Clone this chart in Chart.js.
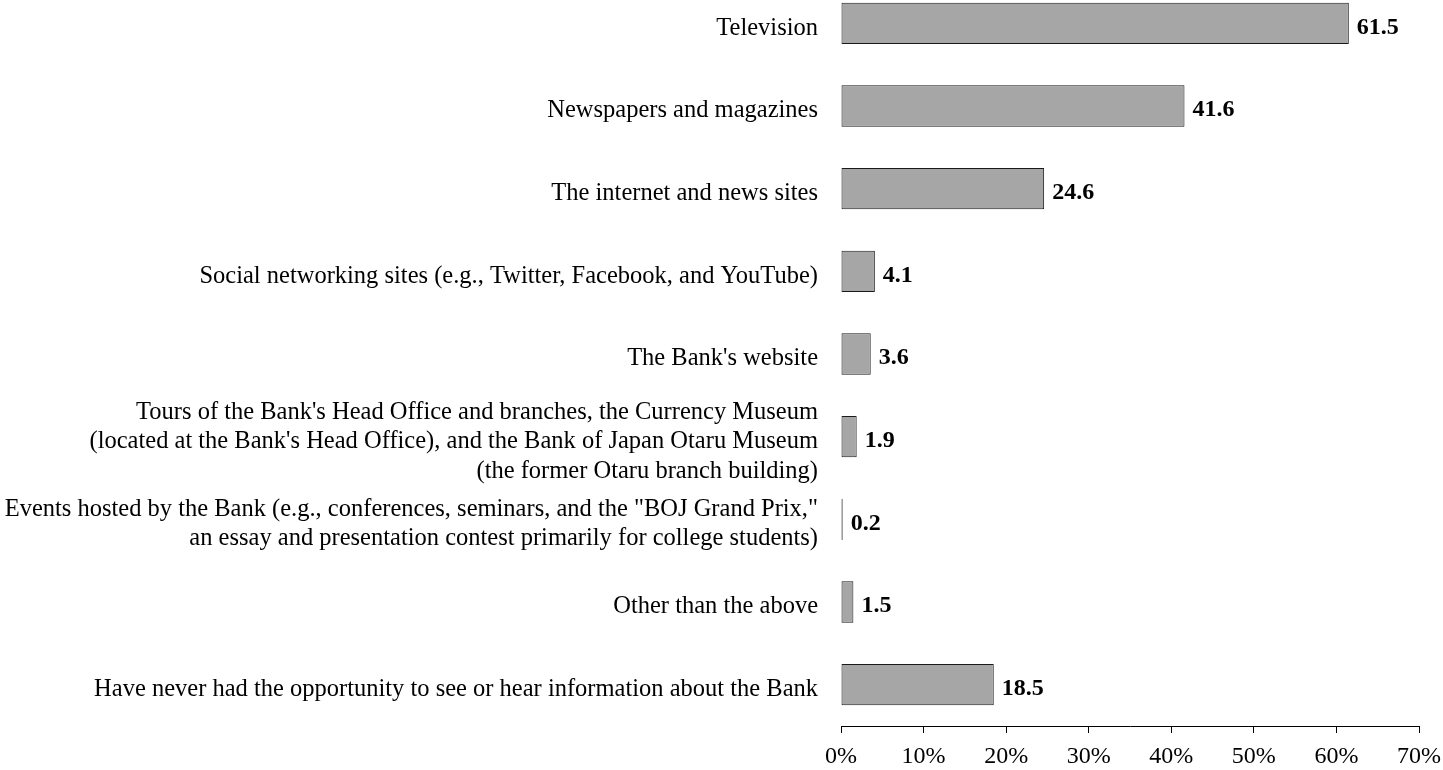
<!DOCTYPE html>
<html>
<head>
<meta charset="utf-8">
<script src="https://cdn.jsdelivr.net/npm/chart.js@4.4.0/dist/chart.umd.min.js"></script>
<style>
  html, body { margin: 0; padding: 0; background: #fff; overflow: hidden; }
  #wrap { position: absolute; left: 0; top: -18px; width: 1443px; height: 788px; }
</style>
</head>
<body>
<div id="wrap"><canvas id="infoChart" width="1443" height="788"></canvas></div>
<script>
const categories = [
    'Television',
    'Newspapers and magazines',
    'The internet and news sites',
    'Social networking sites (e.g., Twitter, Facebook, and YouTube)',
    "The Bank's website",
    ["Tours of the Bank's Head Office and branches, the Currency Museum",
     "(located at the Bank's Head Office), and the Bank of Japan Otaru Museum",
     '(the former Otaru branch building)'],
    ['Events hosted by the Bank (e.g., conferences, seminars, and the "BOJ Grand Prix,"',
     'an essay and presentation contest primarily for college students)'],
    'Other than the above',
    'Have never had the opportunity to see or hear information about the Bank'
];
const shares = [61.5, 41.6, 24.6, 4.1, 3.6, 1.9, 0.2, 1.5, 18.5];
const xTicks = [0, 10, 20, 30, 40, 50, 60, 70];

const serif = "'Liberation Serif', 'Times New Roman', serif";

// writes the value next to the end of each bar
const valueLabels = {
    id: 'valueLabels',
    afterDatasetsDraw(chart) {
        const ctx = chart.ctx;
        const meta = chart.getDatasetMeta(0);
        ctx.save();
        ctx.font = 'bold 24px ' + serif;
        ctx.fillStyle = '#000';
        ctx.textAlign = 'left';
        ctx.textBaseline = 'middle';
        meta.data.forEach(function (bar, i) {
            ctx.fillText(shares[i].toFixed(1), bar.x + 8, bar.y + 4);
        });
        ctx.restore();
    }
};

const ctx = document.getElementById('infoChart').getContext('2d');
new Chart(ctx, {
    type: 'bar',
    data: {
        labels: categories,
        datasets: [{
            data: shares,
            backgroundColor: '#a6a6a6',
            borderColor: '#1a1a1a',
            borderWidth: 1,
            borderSkipped: false,
            barPercentage: 0.5,
            categoryPercentage: 1
        }]
    },
    options: {
        indexAxis: 'y',
        responsive: false,
        animation: false,
        layout: { padding: 0 },
        plugins: {
            legend: { display: false },
            tooltip: { enabled: false }
        },
        scales: {
            x: {
                min: 0,
                max: 70,
                afterBuildTicks: function (scale) {
                    scale.ticks = xTicks.map(v => ({ value: v }));
                },
                afterFit: function (scale) {
                    scale.height = 44;
                    scale.paddingRight = 24;
                },
                grid: {
                    drawOnChartArea: false,
                    drawTicks: true,
                    tickLength: 7,
                    color: '#000'
                },
                border: { display: true, color: '#000', width: 1 },
                ticks: {
                    color: '#000',
                    padding: 9,
                    maxRotation: 0,
                    font: { family: serif, size: 24 },
                    callback: function (v) { return v + '%'; }
                }
            },
            y: {
                afterFit: function (scale) {
                    scale.width = 841;
                    scale.paddingTop = 0;
                    scale.paddingBottom = 0;
                },
                grid: { display: false, drawTicks: false },
                border: { display: false },
                ticks: {
                    color: '#000',
                    padding: 23,
                    labelOffset: 5,
                    autoSkip: false,
                    font: { family: serif, size: 24.5, lineHeight: 1.2 }
                }
            }
        }
    },
    plugins: [valueLabels]
});
</script>
</body>
</html>
